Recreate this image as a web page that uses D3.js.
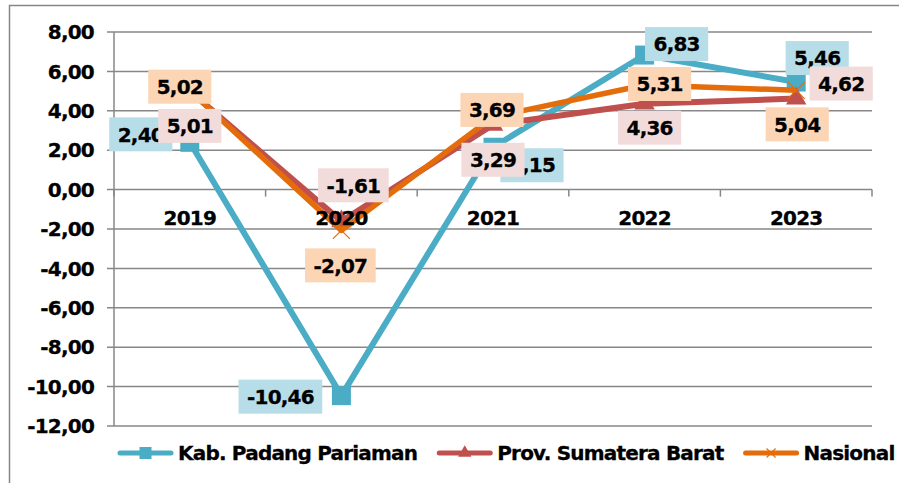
<!DOCTYPE html>
<meta charset="utf-8">
<script src="https://d3js.org/d3.v7.min.js"></script>
<style>
body { margin: 0; background: #fff; }
text { font-family: "DejaVu Sans", Verdana, sans-serif; font-weight: bold; fill: #000;
       font-size: 20px; letter-spacing: -0.8px; stroke: #000; stroke-width: 0.3px; }
.grid line { stroke: #878787; stroke-width: 1.5px; }
</style>
<body>
<script>

// data
var years = ["2019", "2020", "2021", "2022", "2023"];
var seriesNames = ["Kab. Padang Pariaman", "Prov. Sumatera Barat", "Nasional"];
var kabValues = [2.40, -10.46, 2.15, 6.83, 5.46];
var provValues = [5.01, -1.61, 3.29, 4.36, 4.62];
var nasValues = [5.02, -2.07, 3.69, 5.31, 5.04];
var yTicks = [8, 6, 4, 2, 0, -2, -4, -6, -8, -10, -12];

// look of each series, and where its value labels sit relative to the point
var colors = ["#4BACC6", "#C0504D", "#E46C0A"];
var boxColors = ["#B7DEE8", "#F2DCDB", "#FCD5B5"];
var markers = ["square", "triangle", "cross"];
var labelOffsets = [
  [[-49, -8], [-61, 1], [39, 18], [32, -11], [21, -24]],
  [[0, 35], [12, -36], [0, 35], [5, 24], [45, -15]],
  [[-10, -4], [-1, 35], [-1, -7], [15, -1], [1, 34]]
];

var series = [kabValues, provValues, nasValues].map(function(v, i) {
  return { name: seriesNames[i], values: v, color: colors[i], box: boxColors[i],
           marker: markers[i], offsets: labelOffsets[i] };
});

var W = 899, H = 483;
var svg = d3.select("body").append("svg").attr("width", W).attr("height", H);

// outer frame
svg.append("rect")
  .attr("x", 9.5).attr("y", 5.5).attr("width", 900).attr("height", 500)
  .attr("fill", "none").attr("stroke", "#878787").attr("stroke-width", 1.5);

var left = 114, right = 872;
var x = d3.scaleBand().domain(years).range([left, right]);
var y = d3.scaleLinear().domain([-12, 8]).range([426, 32]);
var cx = function(i) { return x(years[i]) + x.bandwidth() / 2; };

var fmt = function(v) { return d3.format(".2f")(v).replace(".", ",").replace("\u2212", "-"); };

// gridlines + y labels
var grid = svg.append("g").attr("class", "grid");
grid.selectAll("line.h").data(yTicks).enter().append("line")
  .attr("x1", left - 7).attr("x2", right)
  .attr("y1", function(d) { return y(d); }).attr("y2", function(d) { return y(d); });
grid.append("line").attr("x1", left).attr("x2", left).attr("y1", y(8)).attr("y2", y(-12));

// x axis ticks at 0
var xTickPos = years.map(function(d) { return x(d); }).concat([right]);
grid.selectAll("line.t").data(xTickPos).enter().append("line")
  .attr("x1", function(d) { return d; }).attr("x2", function(d) { return d; })
  .attr("y1", y(0)).attr("y2", y(0) + 7);

svg.append("g").selectAll("text").data(yTicks).enter().append("text")
  .attr("x", 94).attr("y", function(d) { return y(d); })
  .attr("dy", "0.36em").attr("text-anchor", "end")
  .text(function(d) { return fmt(d); });

// lines
var line = d3.line().x(function(d, i) { return cx(i); }).y(function(d) { return y(d); });

function drawMarker(g, type, color, size) {
  if (type === "square") {
    g.append("rect").attr("x", -size / 2).attr("y", -size / 2)
      .attr("width", size).attr("height", size).attr("fill", color);
  } else if (type === "triangle") {
    g.append("path").attr("d", d3.symbol().type(d3.symbolTriangle).size(size * size * 0.45)())
      .attr("fill", color);
  } else {
    g.append("path")
      .attr("d", "M" + (-size / 2) + "," + (-size / 2) + "L" + (size / 2) + "," + (size / 2) +
                 "M" + (size / 2) + "," + (-size / 2) + "L" + (-size / 2) + "," + (size / 2))
      .attr("stroke", color).attr("stroke-width", 1.2).attr("fill", "none");
  }
}

series.forEach(function(s) {
  svg.append("path").datum(s.values)
    .attr("d", line).attr("fill", "none")
    .attr("stroke", s.color).attr("stroke-width", s.marker === "cross" ? 5.5 : 6)
    .attr("stroke-linejoin", "round");
  s.values.forEach(function(v, i) {
    var g = svg.append("g").attr("transform", "translate(" + cx(i) + "," + y(v) + ")");
    drawMarker(g, s.marker, s.color, s.marker === "square" ? 19 : (s.marker === "triangle" ? 20 : 17));
  });
});

// category labels
svg.append("g").selectAll("text").data(years).enter().append("text")
  .attr("x", function(d, i) { return cx(i); }).attr("y", 218)
  .attr("dy", "0.36em").attr("text-anchor", "middle")
  .text(function(d) { return d; });

// data labels
series.forEach(function(s) {
  s.values.forEach(function(v, i) {
    var lx = cx(i) + s.offsets[i][0], ly = y(v) + s.offsets[i][1];
    var g = svg.append("g").attr("transform", "translate(" + lx + "," + ly + ")");
    var r = g.append("rect").attr("fill", s.box);
    var t = g.append("text").attr("text-anchor", "middle").attr("dy", "0.36em")
      .text(fmt(v));
    var w = t.node().getComputedTextLength() + 17;
    r.attr("x", -w / 2).attr("y", -17).attr("width", w).attr("height", 34);
  });
});

// legend
var lx = 118, ly = 453;
series.forEach(function(s) {
  var g = svg.append("g").attr("transform", "translate(" + lx + "," + ly + ")");
  g.append("line").attr("x1", 2).attr("x2", 53).attr("y1", 0).attr("y2", 0)
    .attr("stroke", s.color).attr("stroke-width", 5).attr("stroke-linecap", "round");
  var m = g.append("g").attr("transform", "translate(27.5,0)");
  drawMarker(m, s.marker, s.color, s.marker === "square" ? 12 : (s.marker === "triangle" ? 13 : 9));
  var t = g.append("text").attr("x", 60).attr("dy", "0.36em").text(s.name);
  lx += 60 + t.node().getComputedTextLength() + 20;
});

</script>
</body>
